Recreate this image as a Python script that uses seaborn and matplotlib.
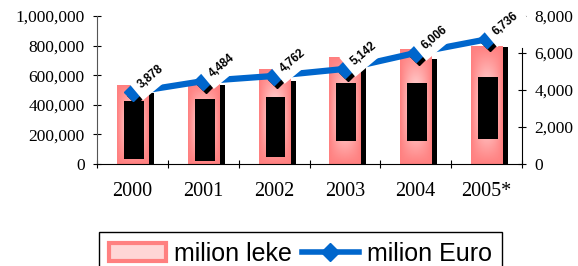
import numpy as np
import matplotlib.pyplot as plt
import matplotlib.transforms as mtransforms
from matplotlib.patches import Patch
from matplotlib.lines import Line2D
from matplotlib.ticker import FuncFormatter
import seaborn as sns

plt.rcParams["font.family"] = ["Liberation Serif", "DejaVu Serif"]

# data
years = ["2000", "2001", "2002", "2003", "2004", "2005*"]
leke = [527000, 534000, 635000, 718000, 770000, 793000]
leke_shadow = [480000, 534000, 561000, 651000, 709000, 793000]
box_low = [34000, 22000, 49000, 157000, 157000, 171000]
box_high = [428000, 439000, 455000, 549000, 549000, 590000]
euro = [3878, 4484, 4762, 5142, 6006, 6736]

PINK = "#ff8080"
BLUE = "#0066cc"
SANS = ["Liberation Sans", "DejaVu Sans"]

fig, ax = plt.subplots(figsize=(5.78, 2.66), dpi=100)
fig.subplots_adjust(left=0.168, right=0.903, bottom=0.383, top=0.94)

# pink bars
sns.barplot(x=years, y=leke, color=PINK, saturation=1, width=0.44, ax=ax, zorder=2)

# gradient fill: pink edges, pale centre
gx = np.linspace(-1, 1, 64)
gy = np.linspace(-1, 1, 128)
U, V = np.meshgrid(gx, gy)
t = (1 - (1 - U**2) * (1 - V**2)) ** 0.5
pink_rgb = np.array([1.0, 0.5, 0.5])
white_rgb = np.array([1.0, 0.96, 0.96])
grad = white_rgb * (1 - t[..., None]) + pink_rgb * t[..., None]
for p in list(ax.patches):
    x0, y0 = p.get_x(), p.get_y()
    ax.imshow(grad, extent=[x0, x0 + p.get_width(), y0, y0 + p.get_height()],
              aspect="auto", zorder=2.5, interpolation="bilinear")

pos = np.arange(len(years))
ax.bar(pos + 0.262, leke_shadow, width=0.085, color="black", zorder=2)
ax.bar(pos + 0.02, np.subtract(box_high, box_low), bottom=box_low, width=0.28,
       color="black", zorder=3)

ax.set_xlim(-0.5, 5.5)
ax.set_ylim(0, 1000000)
ax.set_yticks(np.arange(0, 1000001, 200000))
ax.yaxis.set_major_formatter(FuncFormatter(lambda v, _: f"{v:,.0f}"))
ax.set_xticks(np.arange(-0.5, 6, 1))
ax.set_xticklabels([])
ax.set_xticks(pos, minor=True)
ax.set_xticklabels(years, minor=True)
ax.tick_params(axis="x", which="minor", length=0, pad=13, labelsize=14.5)
ax.tick_params(axis="x", which="major", direction="inout", length=6)
ax.tick_params(axis="y", direction="inout", length=6, labelsize=12.5, pad=6)
ax.set_xlabel("")
for s in ["top", "right"]:
    ax.spines[s].set_visible(False)
ax.spines["left"].set_color("#555555")

# euro line on the right axis
ax2 = ax.twinx()
sns.lineplot(x=pos, y=euro, ax=ax2, color=BLUE, linewidth=4.5, zorder=3)
shift = mtransforms.offset_copy(ax2.transData, fig=fig, x=3, y=-3, units="dots")
ax2.plot(pos, euro, ls="none", marker="D", ms=9, color="black", transform=shift, zorder=4)
ax2.plot(pos, euro, ls="none", marker="D", ms=9, color=BLUE, zorder=5)
# labels on white boxes that cut into the line, as in the original
for x, v in zip(pos, euro):
    ax2.annotate(f"{v:,}", (x, v), xytext=(13.5, 11), textcoords="offset points",
                 rotation=40, ha="center", va="center", fontsize=8.5, fontweight="bold",
                 family=SANS, zorder=6,
                 bbox=dict(boxstyle="square,pad=0.55", fc="white", ec="none"))

ax2.set_ylim(0, 8000)
ax2.set_yticks(np.arange(0, 8001, 2000))
ax2.yaxis.set_major_formatter(FuncFormatter(lambda v, _: f"{v:,.0f}"))
ax2.tick_params(axis="y", direction="inout", length=6, labelsize=12.5, pad=6)
for s in ["top", "left", "bottom"]:
    ax2.spines[s].set_visible(False)
ax2.spines["right"].set_bounds(0, 6270)

handles = [Patch(facecolor="#ffd6d6", edgecolor=PINK, linewidth=3),
           Line2D([], [], color=BLUE, lw=4, marker="D", ms=9)]
leg = fig.legend(handles, ["milion leke", "milion Euro"], loc="upper left",
                 bbox_to_anchor=(0.171, 0.128), ncol=2, frameon=True, fancybox=False,
                 edgecolor="black", framealpha=1, prop={"family": SANS, "size": 18},
                 handlelength=2.3, handletextpad=0.3, columnspacing=0.4,
                 borderpad=0.4, borderaxespad=0)
leg.get_frame().set_linewidth(1)

fig.savefig("out.png", dpi=100)
